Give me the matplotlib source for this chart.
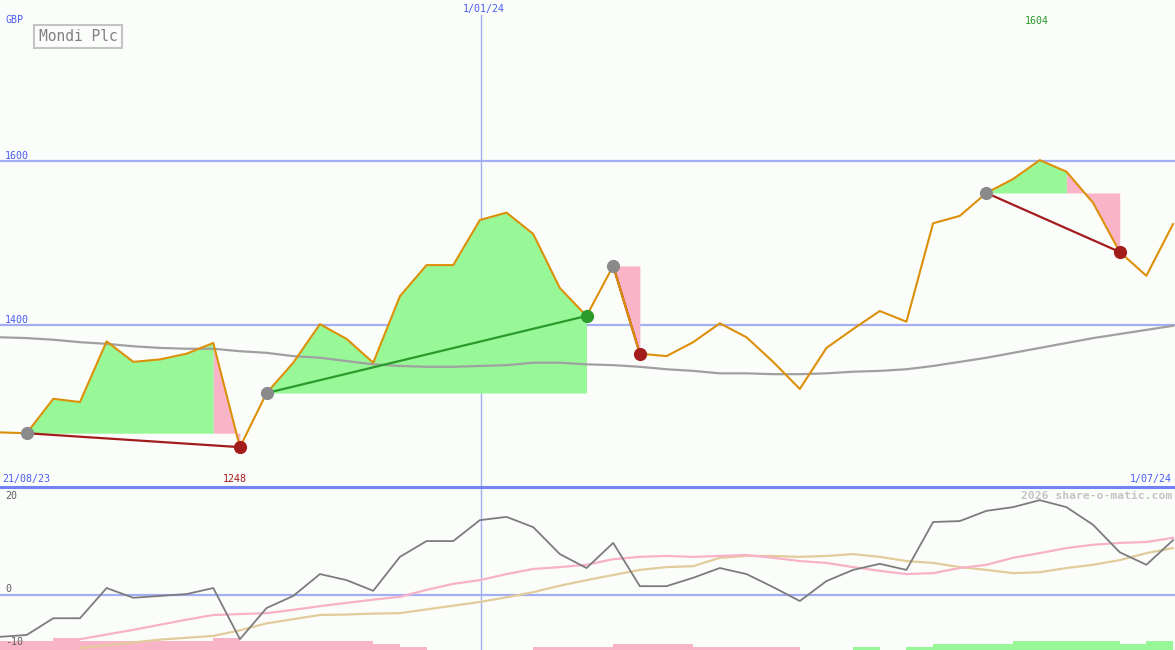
import numpy as np
import matplotlib
matplotlib.use('Agg')
import matplotlib.pyplot as plt

# weekly closes (GBp), Mondi Plc
price = [1269, 1268, 1310, 1306, 1380, 1355, 1358, 1365, 1378, 1251,
         1317, 1354, 1401, 1383, 1354, 1435, 1473, 1473, 1528, 1537,
         1511, 1445, 1411, 1472, 1365, 1362, 1379, 1402, 1385, 1355,
         1322, 1372, 1395, 1417, 1404, 1524, 1533, 1561, 1578, 1601,
         1587, 1549, 1489, 1460, 1523]
mavg = [1385, 1384, 1382, 1379, 1377, 1374, 1372, 1371, 1371, 1368,
        1366, 1362, 1360, 1356, 1352, 1350, 1349, 1349, 1350, 1351,
        1354, 1354, 1352, 1351, 1349, 1346, 1344, 1341, 1341, 1340,
        1340, 1341, 1343, 1344, 1346, 1350, 1355, 1360, 1366, 1372,
        1378, 1384, 1389, 1394, 1399]

# trades: entry index, index where green turns pink, exit index
entries = [1, 10, 23, 37]
turns = [8, 22, 23, 40]
exits = [9, 22, 24, 42]

levels = [1600, 1400]
hi_label = 1604
lo_label = 1248
jan_idx = 18.04

# lower panel
osc = [-9.0, -8.6, -5.0, -5.0, 1.5, -0.6, -0.2, 0.2, 1.5, -9.5,
       -2.8, -0.2, 4.5, 3.2, 0.9, 8.2, 11.6, 11.6, 16.1, 16.8,
       14.6, 8.8, 5.8, 11.2, 1.9, 1.9, 3.7, 5.8, 4.5, 1.7,
       -1.3, 3.0, 5.4, 6.7, 5.4, 15.7, 15.9, 18.1, 18.9, 20.4,
       18.9, 15.1, 9.2, 6.5, 11.8]
nan = np.nan
osc_fast = [nan, nan, nan, -9.5, -8.5, -7.5, -6.4, -5.3, -4.3, -4.1,
            -3.9, -3.2, -2.4, -1.7, -1.0, -0.4, 1.1, 2.4, 3.2, 4.5,
            5.6, 6.0, 6.5, 7.7, 8.2, 8.4, 8.2, 8.4, 8.6, 8.0,
            7.3, 6.9, 6.0, 5.2, 4.5, 4.7, 5.8, 6.5, 8.0, 9.0,
            10.1, 10.8, 11.2, 11.4, 12.3]
osc_slow = [nan, nan, nan, -11.4, -10.8, -10.2, -9.6, -9.2, -8.8, -7.6,
            -6.1, -5.2, -4.3, -4.2, -4.0, -3.9, -3.1, -2.3, -1.5, -0.5,
            0.6, 2.0, 3.2, 4.3, 5.4, 6.0, 6.2, 8.0, 8.4, 8.4,
            8.2, 8.4, 8.8, 8.2, 7.3, 6.9, 6.0, 5.4, 4.7, 4.9,
            5.8, 6.5, 7.5, 9.0, 10.1]
bars = [-3, -3, -4, -3, -3, -3, -3, -3, -4, -3, -3, -3, -3, -3, -2,
        -1, 0, 0, 0, 0, -1, -1, -1, -2, -2, -2, -1, -1, -1, -1,
        0, 0, 1, 0, 1, 2, 2, 2, 3, 3, 3, 3, 2, 3]

bg = '#fbfdfb'
blue_txt = '#4a5cf2'
grid_c = '#a4aef2'
green_fill = '#98f898'
pink_fill = '#fab4c8'
dark_red = '#a31c1c'
mono = 'DejaVu Sans Mono'

W, H = 1175, 650
split = 487
fig = plt.figure(figsize=(W / 100, H / 100), dpi=100)
fig.patch.set_facecolor(bg)


def px(x, y):
    return x / W, 1 - y / H


ax = fig.add_axes([0, 1 - split / H, 1, split / H])
ax2 = fig.add_axes([0, 0, 1, 1 - split / H])
for a in (ax, ax2):
    a.axis('off')
    a.set_xlim(0, W / 26.66)
ax.set_ylim(1202.4, 1796.3)
ax2.set_ylim(-11.83, 23.23)

x = np.arange(len(price))
p = np.array(price, dtype=float)

for lv in levels:
    ax.axhline(lv, color=grid_c, lw=1.6, zorder=1)
ax.axvline(jan_idx, ymax=1 - 15 / split, color=grid_c, lw=1, zorder=1)
ax2.axvline(jan_idx, color=grid_c, lw=1, zorder=1)

for e, t, xx in zip(entries, turns, exits):
    lvl = p[e]
    if t > e:
        ax.fill_between(x[e:t + 1], lvl, p[e:t + 1], color=green_fill, lw=0, zorder=2)
    if xx > t:
        ax.fill_between(x[t:xx + 1], lvl, p[t:xx + 1], color=pink_fill, lw=0, zorder=2)

ax.plot(x, mavg, color='#a0a0a0', lw=1.6, zorder=3)

for e, xx in zip(entries, exits):
    win = p[xx] > p[e]
    ax.plot([e, xx], [p[e], p[xx]], color='#2a9a2a' if win else dark_red, lw=1.6, zorder=3.5)

ax.plot(x, p, color='#dc9008', lw=1.5, zorder=4)

for e, xx in zip(entries, exits):
    win = p[xx] > p[e]
    ax.plot(e, p[e], 'o', ms=9.5, color='#8a8a8a', mec='none', zorder=5)
    ax.plot(xx, p[xx], 'o', ms=9.5, color='#2a9a2a' if win else dark_red, mec='none', zorder=5)

# lower panel
ax2.axhline(0, color=grid_c, lw=1.6, zorder=1)
axb = ax2.twinx()
axb.axis('off')
axb.set_ylim(0, (H - split) / 3)
b = np.array(bars)
axb.bar(np.arange(len(b)), np.abs(b), width=1, align='edge',
        color=[green_fill if v > 0 else pink_fill for v in b], lw=0, zorder=1)
ax2.plot(x, osc_slow, color='#e2cc9c', lw=1.6, zorder=3)
ax2.plot(x, osc_fast, color='#f8b2c8', lw=1.6, zorder=3)
ax2.plot(x, osc, color='#7c7c7c', lw=1.3, zorder=4)
ax2.set_zorder(axb.get_zorder() + 1)

fig.add_artist(plt.Line2D([0, 1], [1 - split / H] * 2, transform=fig.transFigure,
                          color='#7282f2', lw=2.2))

fs = 7.2
fig.text(*px(5, 20), 'GBP', color=blue_txt, fontsize=fs, family=mono, va='center')
fig.text(*px(5, 156), '1600', color=blue_txt, fontsize=fs, family=mono, va='center')
fig.text(*px(5, 320), '1400', color=blue_txt, fontsize=fs, family=mono, va='center')
fig.text(*px(484, 9), '1/01/24', color=blue_txt, fontsize=fs, family=mono, va='center', ha='center')
fig.text(*px(2, 479), '21/08/23', color=blue_txt, fontsize=fs, family=mono, va='center')
fig.text(*px(1172, 479), '1/07/24', color=blue_txt, fontsize=fs, family=mono, va='center', ha='right')
fig.text(*px(1037, 21), str(hi_label), color='#2a9a2a', fontsize=fs, family=mono, va='center', ha='center')
fig.text(*px(235, 479), str(lo_label), color=dark_red, fontsize=fs, family=mono, va='center', ha='center')
fig.text(*px(5, 496), '20', color='#606060', fontsize=fs, family=mono, va='center')
fig.text(*px(5, 589), '0', color='#606060', fontsize=fs, family=mono, va='center')
fig.text(*px(5, 642), '-10', color='#606060', fontsize=fs, family=mono, va='center')
fig.text(*px(1172, 496), '2026 share-o-matic.com', color='#c4c4c4', fontsize=8.2,
         family=mono, weight='bold', va='center', ha='right')
fig.text(*px(78, 36.5), 'Mondi Plc', color='#808080', fontsize=10.5, family=mono,
         va='center', ha='center',
         bbox=dict(boxstyle='square,pad=0.3', fc=bg, ec='#c4c4c4', lw=1.5))

fig.savefig('out.png', dpi=100, facecolor=bg)
